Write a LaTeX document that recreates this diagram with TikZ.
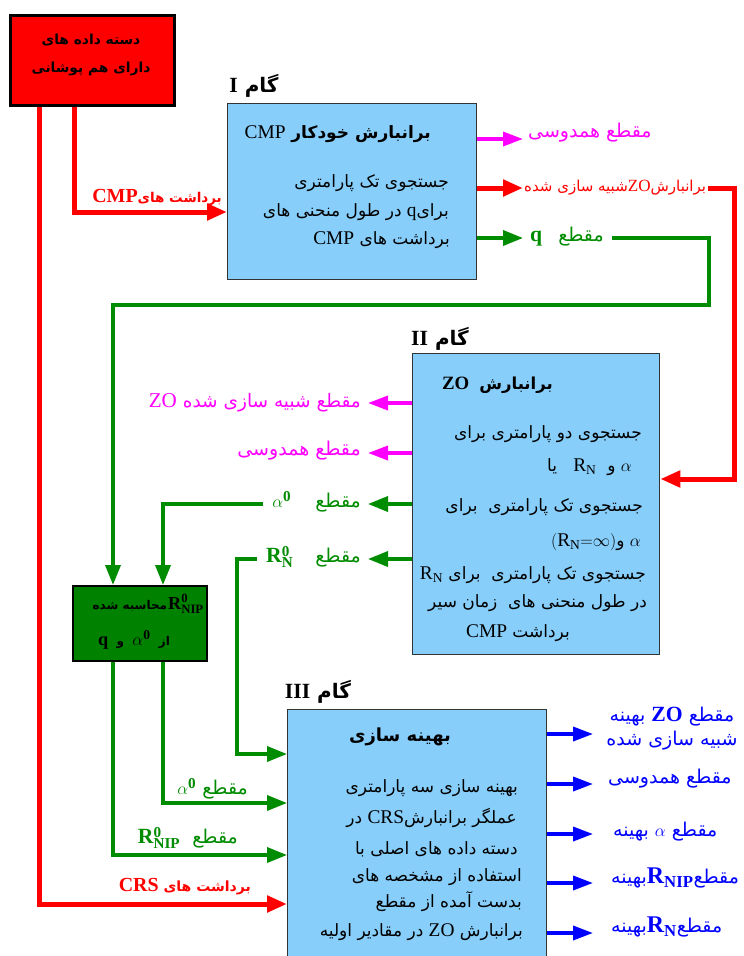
\documentclass[tikz,border=0pt]{standalone}
\usepackage{fontspec}
\setmainfont{Liberation Serif}[Scale=1.14]
\newfontfamily\fa[Script=Arabic]{DejaVu Sans}
\TeXXeTstate=1
\usetikzlibrary{arrows.meta}
\newcommand\RL[1]{\beginR #1\endR}
\newcommand\LT[1]{\beginL{\rmfamily #1}\endL}
\newcommand\fs[1]{\fontsize{#1}{#1}\selectfont}
\definecolor{boxblue}{RGB}{135,206,250}
\definecolor{grn}{RGB}{0,140,0}
\definecolor{gbox}{RGB}{0,130,0}
\definecolor{mgt}{RGB}{255,0,255}
\definecolor{blu}{RGB}{0,0,255}
\begin{document}
\begin{tikzpicture}[x=1pt,y=-1pt,
  box/.style={draw=black!80,line width=1.3pt,fill=boxblue,anchor=north west,inner sep=0pt},
  txt/.style={inner sep=0pt,font=\fa\fontsize{17}{20}\selectfont},
  ttl/.style={inner sep=0pt,font=\fa\bfseries\fontsize{17}{20}\selectfont},
  lab/.style={inner sep=0pt,font=\fa\fontsize{19}{22}\selectfont},
  redl/.style={draw=red,line width=5pt,-{Triangle[length=20pt,width=16pt]}},
  grl/.style={draw=grn,line width=3.5pt,-{Triangle[length=20pt,width=15pt]}},
  mgl/.style={draw=mgt,line width=3.5pt,-{Triangle[length=20pt,width=14pt]}},
  bll/.style={draw=blu,line width=3.5pt,-{Triangle[length=20pt,width=14pt]}},
  steplab/.style={inner sep=0pt,font=\fa\bfseries\fontsize{20}{22}\selectfont},
]
\useasboundingbox (0,0) rectangle (744,956);
\clip (0,0) rectangle (744,956);
\fill[white] (0,0) rectangle (744,956);

% boxes
\node[draw=black,line width=2.5pt,fill=red,minimum width=164pt,minimum height=90pt,anchor=north west,inner sep=0pt] (rb) at (9,14) {};
\node[box,minimum width=249pt,minimum height=176pt] (b1) at (227,103) {};
\node[box,minimum width=247pt,minimum height=301pt] (b2) at (412,353) {};
\node[draw=black,line width=1.5pt,fill=gbox,minimum width=134pt,minimum height=75pt,anchor=north west,inner sep=0pt] (gb) at (72,585) {};
\node[box,minimum width=259pt,minimum height=280pt] (b3) at (287,709) {};

% red box text
\node[ttl,font=\fa\bfseries\fontsize{13.8}{28}\selectfont,align=center] (rbt) at (91,55) {\RL{دسته داده های}\\\RL{دارای هم پوشانی}};

% step labels
\node[steplab] (s1) at (254,86) {\RL{گام \LT{\fs{19}I}}};
\node[steplab] (s2) at (440,339) {\RL{گام \LT{\fs{19}II}}};
\node[steplab] (s3) at (318,692) {\RL{گام \LT{\fs{19}III}}};

% box I text
\node[ttl,anchor=east] (t1) at (431,134) {\RL{برانبارش خودکار \LT{\mdseries CMP}}};
\node[txt,anchor=east] (t1a) at (449,183) {\RL{جستجوی تک پارامتری}};
\node[txt,anchor=east] (t1b) at (449,212) {\RL{برای\LT{q} در طول منحنی های}};
\node[txt,anchor=east] (t1c) at (450,240) {\RL{برداشت های \LT{CMP}}};

% box II text
\node[ttl,font=\fa\bfseries\fontsize{16.5}{20}\selectfont,anchor=east] (t2) at (553,385) {\RL{برانبارش\hspace{10pt}\LT{ZO}}};
\node[txt,anchor=east] (t2a) at (642,434) {\RL{جستجوی دو پارامتری برای}};
\node[txt,anchor=east] (t2b) at (632,467) {\RL{$\alpha$ و \ $\mathrm{R}_{\mathrm{N}}$ \ \ یا}};
\node[txt,anchor=east] (t2c) at (643,507) {\RL{جستجوی تک پارامتری \ برای}};
\node[txt,anchor=east] (t2d) at (641,542) {\RL{$\alpha$ و$(\mathrm{R}_{\mathrm{N}}{=}\infty)$}};
\node[txt,anchor=east] (t2e) at (646,575) {\RL{جستجوی تک پارامتری \ برای $\mathrm{R}_{\mathrm{N}}$}};
\node[txt,anchor=east] (t2f) at (647,603) {\RL{در طول منحنی های \ زمان سیر}};
\node[txt,anchor=east] (t2g) at (570,633) {\RL{برداشت \LT{CMP}}};

% green box text
\node[ttl,font=\fa\bfseries\fontsize{12}{14}\selectfont,anchor=east] (gt1) at (204,604) {\RL{{\fs{16}$\mathbf{R}^{\mathbf{0}}_{\mathbf{NIP}}$}\hspace{1pt}محاسبه شده}};
\node[ttl,font=\fa\bfseries\fontsize{12}{14}\selectfont] (gt2) at (134,640) {\RL{از \ {\fs{17}$\alpha^{\mathbf{0}}$} \ و \ \LT{\fs{16}q}}};

% box III text
\node[ttl,font=\fa\bfseries\fontsize{18}{20}\selectfont] (t3) at (400,737) {\RL{بهینه سازی}};
\node[txt,anchor=east] (t3a) at (518,788) {\RL{بهینه سازی سه پارامتری}};
\node[txt,anchor=east] (t3b) at (517,818) {\RL{عملگر برانبارش\LT{CRS} در}};
\node[txt,anchor=east] (t3c) at (518,849) {\RL{دسته داده های اصلی با}};
\node[txt,anchor=east] (t3d) at (522,877) {\RL{استفاده از مشخصه های}};
\node[txt,anchor=east] (t3e) at (522,902) {\RL{بدست آمده از مقطع}};
\node[txt,anchor=east] (t3f) at (523,932) {\RL{برانبارش \LT{ZO} در مقادیر اولیه}};

% connector labels
\node[ttl,text=red,font=\fa\bfseries\fontsize{13.5}{16}\selectfont,anchor=east] (lcmp) at (222,198) {\RL{برداشت های\LT{\fs{17.5}CMP}}};
\node[ttl,text=red,font=\fa\bfseries\fontsize{14}{16}\selectfont,anchor=east] (lcrs) at (251,887) {\RL{برداشت های \LT{\fs{17.5}CRS}}};
\node[lab,text=mgt,anchor=west] (m1) at (528,133) {\RL{مقطع همدوسی}};
\node[lab,text=red,font=\fa\fontsize{15}{17}\selectfont,anchor=west] (r1) at (524,188) {\RL{برانبارش\LT{ZO}شبیه سازی شده}};
\node[lab,text=grn,anchor=west] (g1) at (530,237) {\RL{مقطع\hspace{16pt}\LT{\bfseries q}}};
\node[lab,text=mgt,font=\fa\fontsize{18.5}{22}\selectfont,anchor=east] (m2) at (361,403) {\RL{مقطع شبیه سازی شده \LT{ZO}}};
\node[lab,text=mgt,anchor=east] (m3) at (361,451) {\RL{مقطع همدوسی}};
\node[lab,text=grn,anchor=east] (g2) at (361,502) {\RL{مقطع\hspace{24pt}$\alpha^{\mathbf{0}}$}};
\node[lab,text=grn,anchor=east] (g3) at (361,557) {\RL{مقطع\hspace{22pt}$\mathbf{R}^{\mathbf{0}}_{\mathbf{N}}$}};
\node[lab,text=grn,anchor=east] (g4) at (248,789) {\RL{مقطع $\alpha^{\mathbf{0}}$}};
\node[lab,text=grn,anchor=east] (g5) at (238,838) {\RL{مقطع \ $\mathbf{R}^{\mathbf{0}}_{\mathbf{NIP}}$}};
\node[lab,text=blu,align=center,font=\fa\fontsize{19}{24}\selectfont] (o1) at (672,729) {\RL{مقطع \LT{\bfseries ZO} بهینه}\\\RL{شبیه سازی شده}};
\node[lab,text=blu,anchor=west] (o2) at (608,779) {\RL{مقطع همدوسی}};
\node[lab,text=blu,anchor=west] (o3) at (613,832) {\RL{مقطع $\alpha$ بهینه}};
\node[lab,text=blu,anchor=west] (o4) at (611,878) {\RL{مقطع{\fs{21}$\mathbf{R}_{\mathbf{NIP}}$}بهینه}};
\node[lab,text=blu,anchor=west] (o5) at (611,927) {\RL{مقطع{\fs{21}$\mathbf{R}_{\mathbf{N}}$}بهینه}};

% free arrow ends
\coordinate (e1) at (523,139);
\coordinate (e2) at (523,188);
\coordinate (e3) at (523,238);
\coordinate (e4) at (368,403);
\coordinate (e5) at (368,453);
\coordinate (e6) at (368,504);
\coordinate (e7) at (368,559);
\coordinate (f1) at (593,734);
\coordinate (f2) at (593,784);
\coordinate (f3) at (593,834);
\coordinate (f4) at (593,883);
\coordinate (f5) at (593,933);

% connectors
\draw[redl] (rb.south -| 74,0) |- (b1.west |- 0,212);
\draw[redl] (rb.south -| 39,0) |- (b3.west |- 0,904);
\draw[mgl] (b1.east |- 0,139) -- (e1);
\draw[redl] (b1.east |- 0,188) -- (e2);
\draw[grl] (b1.east |- 0,238) -- (e3);
\draw[redl] ([xshift=2pt]r1.east |- 0,188) -| (734,479) -- (b2.east |- 0,479);
\draw[grl] ([xshift=8pt]g1.east |- 0,238) -| (709,305) -| (gb.north -| 113,0);
\draw[mgl] (b2.west |- 0,403) -- (e4);
\draw[mgl] (b2.west |- 0,453) -- (e5);
\draw[grl] (b2.west |- 0,504) -- (e6);
\draw[grl] (b2.west |- 0,559) -- (e7);
\draw[grl] ([xshift=-9pt]g2.west |- 0,504) -| (gb.north -| 163,0);
\draw[grl] ([xshift=-9pt]g3.west |- 0,559) -| (237,754) -- (b3.west |- 0,754);
\draw[grl] (gb.south -| 163,0) |- (b3.west |- 0,803);
\draw[grl] (gb.south -| 113,0) |- (b3.west |- 0,855);
\draw[bll] (b3.east |- 0,734) -- (f1);
\draw[bll] (b3.east |- 0,784) -- (f2);
\draw[bll] (b3.east |- 0,834) -- (f3);
\draw[bll] (b3.east |- 0,883) -- (f4);
\draw[bll] (b3.east |- 0,933) -- (f5);
\end{tikzpicture}
\end{document}
